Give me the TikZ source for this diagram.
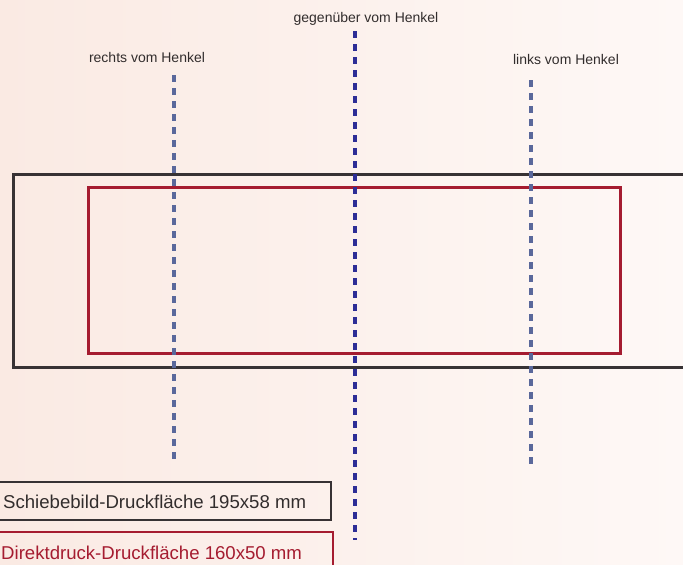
\documentclass[tikz,border=0pt]{standalone}
\usepackage{fontspec}
\setmainfont{Liberation Sans}
\definecolor{bgL}{RGB}{250,234,227}
\definecolor{bgR}{RGB}{254,248,246}
\definecolor{frameblk}{RGB}{55,50,52}
\definecolor{framered}{RGB}{165,28,48}
\definecolor{sideblue}{RGB}{90,104,155}
\definecolor{midblue}{RGB}{45,45,150}
\definecolor{txt}{RGB}{50,45,45}
\tikzset{
  sideline/.style={line width=4pt, color=sideblue, dash pattern=on 7pt off 6pt},
  midline/.style={line width=4pt, color=midblue, dash pattern=on 7pt off 6pt},
  lbl/.style={font=\fontsize{14}{16}\selectfont, text=txt, inner sep=0pt},
  boxlbl/.style={font=\fontsize{18.6}{21}\selectfont, inner sep=0pt, anchor=west},
}
\begin{document}
\begin{tikzpicture}[x=1pt,y=-1pt]
\useasboundingbox (0,0) rectangle (683,565);
\shade[left color=bgL, right color=bgR] (0,0) rectangle (683,565);
% frames
\draw[frameblk, line width=3pt] (13,174) rectangle (700,367);
\draw[framered, line width=3pt] (88,187) rectangle (620,353);
% dashed guide lines
\coordinate (lt) at (174,75); \coordinate (lb) at (174,463);
\coordinate (mt) at (355,31); \coordinate (mb) at (355,540);
\coordinate (rt) at (531,80); \coordinate (rb) at (531,469);
\draw[sideline] (lt) -- (lb);
\draw[midline] (mt) -- (mb);
\draw[sideline] (rt) -- (rb);
% labels
\node[lbl] (rechts) at (147,57) {rechts vom Henkel};
\node[lbl] (gegen) at (366,19) {gegenüber vom Henkel};
\node[lbl] (links) at (566,59) {links vom Henkel};
% legend boxes
\draw[frameblk, line width=2.8pt] (-5,482) rectangle (331,520);
\node[boxlbl, text=txt] (schiebe) at (3,501.5) {Schiebebild-Druckfläche 195x58 mm};
\draw[framered, line width=2.8pt] (-5,532) rectangle (333,575);
\node[boxlbl, text=framered] (direkt) at (1,552.5) {Direktdruck-Druckfläche 160x50 mm};
\end{tikzpicture}
\end{document}
